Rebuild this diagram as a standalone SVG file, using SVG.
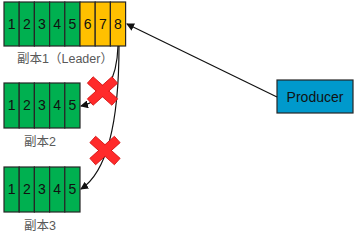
<svg xmlns="http://www.w3.org/2000/svg" width="354" height="240" viewBox="0 0 354 240">
<style>
.g{fill:#00b050;stroke:#262626;stroke-width:1.2}
.y{fill:#ffc000;stroke:#262626;stroke-width:1.2}
.n{font-family:"Liberation Sans",Arial,sans-serif;font-size:14px;fill:#111;text-anchor:middle}
.lb{font-family:"Liberation Sans","Noto Sans CJK SC",sans-serif;font-size:12.5px;fill:#595959;text-anchor:middle}
.c{fill:none;stroke:#111;stroke-width:1.2}
.x{fill:#ff2a2a;stroke:#d01010;stroke-width:0.8}
</style>
<defs>
<marker id="ah" markerWidth="8" markerHeight="8" refX="7" refY="4" orient="auto" markerUnits="userSpaceOnUse">
<path d="M0,0 L8,4 L0,8 z" fill="#111"/>
</marker>
<g id="xmark">
<rect class="x" x="-16.5" y="-4.3" width="33" height="8.6" transform="rotate(42)"/>
<rect class="x" x="-16.5" y="-4.3" width="33" height="8.6" transform="rotate(-42)"/>
<rect x="-15.8" y="-3.7" width="31.6" height="7.4" fill="#ff2a2a" transform="rotate(42)"/>
</g>
</defs>
<g id="leader">
<rect class="g" x="4" y="2" width="15.2" height="44"/>
<rect class="g" x="19.2" y="2" width="15.2" height="44"/>
<rect class="g" x="34.4" y="2" width="15.2" height="44"/>
<rect class="g" x="49.6" y="2" width="15.2" height="44"/>
<rect class="g" x="64.8" y="2" width="15.2" height="44"/>
<rect class="y" x="80" y="2" width="15.2" height="44"/>
<rect class="y" x="95.2" y="2" width="15.2" height="44"/>
<rect class="y" x="110.4" y="2" width="15.2" height="44"/>
<text class="n" x="11.6" y="29">1</text>
<text class="n" x="26.8" y="29">2</text>
<text class="n" x="42" y="29">3</text>
<text class="n" x="57.2" y="29">4</text>
<text class="n" x="72.4" y="29">5</text>
<text class="n" x="87.6" y="29">6</text>
<text class="n" x="102.8" y="29">7</text>
<text class="n" x="118" y="29">8</text>
<text class="lb" x="65" y="63">副本1（Leader）</text>
</g>
<g id="replica2">
<rect class="g" x="4" y="83" width="15.2" height="45"/>
<rect class="g" x="19.2" y="83" width="15.2" height="45"/>
<rect class="g" x="34.4" y="83" width="15.2" height="45"/>
<rect class="g" x="49.6" y="83" width="15.2" height="45"/>
<rect class="g" x="64.8" y="83" width="15.2" height="45"/>
<text class="n" x="11.6" y="110">1</text>
<text class="n" x="26.8" y="110">2</text>
<text class="n" x="42" y="110">3</text>
<text class="n" x="57.2" y="110">4</text>
<text class="n" x="72.4" y="110">5</text>
<text class="lb" x="40" y="146">副本2</text>
</g>
<g id="replica3">
<rect class="g" x="4" y="167" width="15.2" height="45"/>
<rect class="g" x="19.2" y="167" width="15.2" height="45"/>
<rect class="g" x="34.4" y="167" width="15.2" height="45"/>
<rect class="g" x="49.6" y="167" width="15.2" height="45"/>
<rect class="g" x="64.8" y="167" width="15.2" height="45"/>
<text class="n" x="11.6" y="194">1</text>
<text class="n" x="26.8" y="194">2</text>
<text class="n" x="42" y="194">3</text>
<text class="n" x="57.2" y="194">4</text>
<text class="n" x="72.4" y="194">5</text>
<text class="lb" x="40" y="230">副本3</text>
</g>
<g id="producer">
<rect x="277" y="80" width="76" height="33" fill="#0099cc" stroke="#262626" stroke-width="1.2"/>
<text x="315" y="102" font-family="'Liberation Sans',Arial,sans-serif" font-size="14px" fill="#111" text-anchor="middle">Producer</text>
</g>
<g id="connectors">
<path class="c" d="M277,97 L127,24" marker-end="url(#ah)"/>
<path class="c" d="M118,46 C117,78 106,100 81,106" marker-end="url(#ah)"/>
<path class="c" d="M119,46 C119,100 113,168 81,189" marker-end="url(#ah)"/>
</g>
<g id="crosses">
<use href="#xmark" x="102.5" y="91"/>
<use href="#xmark" x="105" y="150.5"/>
</g>
</svg>
